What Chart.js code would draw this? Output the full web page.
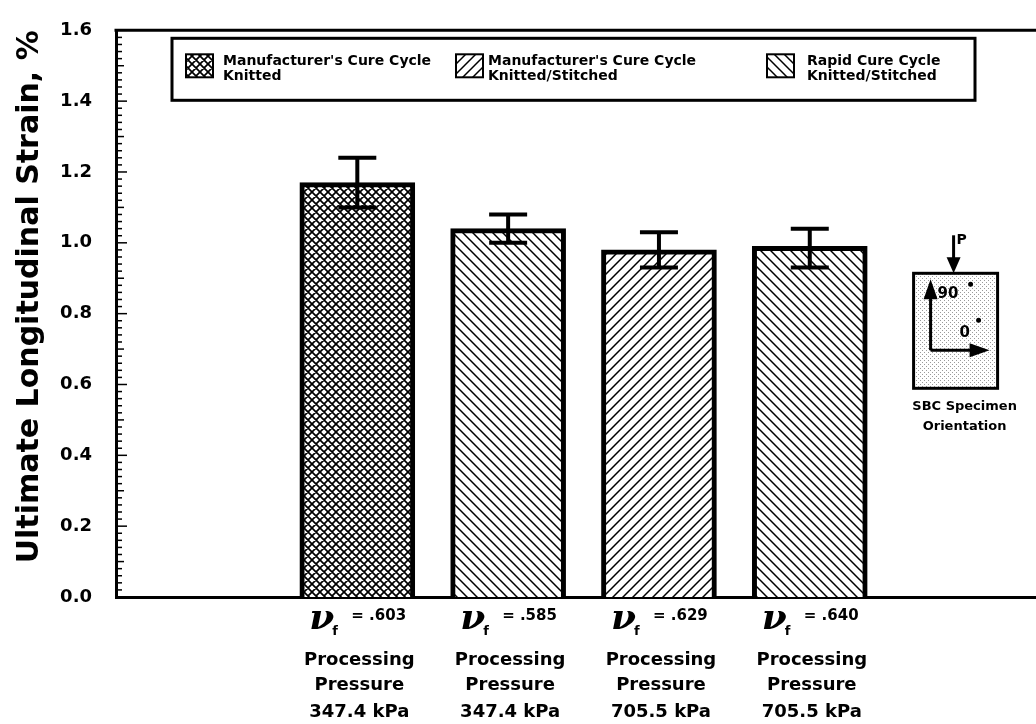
<!DOCTYPE html>
<html>
<head>
<meta charset="utf-8">
<script src="https://cdn.jsdelivr.net/npm/chart.js@4.4.0/dist/chart.umd.min.js"></script>
<style>
  html, body { margin: 0; padding: 0; background: #fff; }
  #wrap { width: 1036px; height: 724px; }
</style>
</head>
<body>
<div id="wrap"><canvas id="strainChart"></canvas></div>
<script>
// values (ultimate longitudinal strain, %)
const fiberFractions = [".603", ".585", ".629", ".640"];
const pressures = ["347.4 kPa", "347.4 kPa", "705.5 kPa", "705.5 kPa"];
const strainMean = [1.17, 1.04, 0.98, 0.99];
const strainHigh = [1.24, 1.08, 1.03, 1.04];
const strainLow = [1.10, 1.00, 0.93, 0.93];
const barHatch = ["cross", "back", "fwd", "back"];

const legendText = [
  ["Manufacturer's Cure Cycle", "Knitted"],
  ["Manufacturer's Cure Cycle", "Knitted/Stitched"],
  ["Rapid Cure Cycle", "Knitted/Stitched"]
];
const legendHatch = ["cross", "fwd", "back"];

const yMax = 1.6;
const yStep = 0.2;
const yMinorStep = 0.02;

const FONT = '"DejaVu Sans", sans-serif';
const canvas = document.getElementById("strainChart");
const mainCtx = canvas.getContext("2d");

function makeHatch(kind) {
  const s = kind === "cross" ? 8 : 10;
  const tile = document.createElement("canvas");
  tile.width = s; tile.height = s;
  const g = tile.getContext("2d");
  g.fillStyle = "#fff";
  g.fillRect(0, 0, s, s);
  g.strokeStyle = "#000";
  g.lineWidth = kind === "cross" ? 1.7 : 1.5;
  g.beginPath();
  if (kind === "back" || kind === "cross") {
    g.moveTo(-2, -2); g.lineTo(s + 2, s + 2);
    g.moveTo(-2, s - 2); g.lineTo(2, s + 2);
    g.moveTo(s - 2, -2); g.lineTo(s + 2, 2);
  }
  if (kind === "fwd" || kind === "cross") {
    g.moveTo(-2, s + 2); g.lineTo(s + 2, -2);
    g.moveTo(-2, 2); g.lineTo(2, -2);
    g.moveTo(s - 2, s + 2); g.lineTo(s + 2, s - 2);
  }
  g.stroke();
  return mainCtx.createPattern(tile, "repeat");
}

function makeDots() {
  const tile = document.createElement("canvas");
  tile.width = 4; tile.height = 4;
  const g = tile.getContext("2d");
  g.fillStyle = "#fff";
  g.fillRect(0, 0, 4, 4);
  g.fillStyle = "#9a9a9a";
  g.fillRect(0, 0, 1, 1);
  g.fillRect(2, 2, 1, 1);
  return mainCtx.createPattern(tile, "repeat");
}

const hatches = { cross: makeHatch("cross"), back: makeHatch("back"), fwd: makeHatch("fwd") };
const dotFill = makeDots();

function arrowHead(ctx, x1, y1, x2, y2, tipX, tipY) {
  ctx.beginPath();
  ctx.moveTo(x1, y1); ctx.lineTo(x2, y2); ctx.lineTo(tipX, tipY);
  ctx.closePath();
  ctx.fill();
}

const decorPlugin = {
  id: "decor",
  afterDatasetsDraw(chart) {
    const { ctx, chartArea: area } = chart;
    const xs = chart.scales.x, ys = chart.scales.y;
    ctx.save();
    ctx.strokeStyle = "#000";
    ctx.fillStyle = "#000";

    // top frame line
    ctx.lineWidth = 3;
    ctx.beginPath();
    ctx.moveTo(area.left - 1.5, area.top);
    ctx.lineTo(area.right, area.top);
    ctx.stroke();

    // inward ticks on the y axis
    ctx.lineWidth = 1.5;
    const nMinor = Math.round(yMax / yMinorStep);
    for (let k = 0; k <= nMinor; k++) {
      const y = ys.getPixelForValue(k * yMinorStep);
      const len = k % 10 === 0 ? 11 : (k % 5 === 0 ? 8 : 6);
      ctx.beginPath();
      ctx.moveTo(area.left, y);
      ctx.lineTo(area.left + len, y);
      ctx.stroke();
    }

    // error bars
    ctx.lineWidth = 4;
    strainMean.forEach((m, i) => {
      const x = xs.getPixelForValue(i + 1);
      const yh = ys.getPixelForValue(strainHigh[i]);
      const yl = ys.getPixelForValue(strainLow[i]);
      ctx.beginPath();
      ctx.moveTo(x, yh); ctx.lineTo(x, yl);
      ctx.moveTo(x - 19, yh); ctx.lineTo(x + 19, yh);
      ctx.moveTo(x - 19, yl); ctx.lineTo(x + 19, yl);
      ctx.stroke();
    });

    // legend box
    const lx = area.left + 56, ly = area.top + 8, lw = 803, lh = 62;
    ctx.lineWidth = 3;
    ctx.fillStyle = "#fff";
    ctx.fillRect(lx, ly, lw, lh);
    ctx.strokeRect(lx, ly, lw, lh);
    const swatchX = [14, 284, 595];
    const textX = [51, 316, 635];
    ctx.font = "bold 14px " + FONT;
    ctx.textBaseline = "middle";
    ctx.textAlign = "left";
    legendText.forEach((lines, i) => {
      ctx.fillStyle = hatches[legendHatch[i]];
      ctx.fillRect(lx + swatchX[i], ly + 16, 27, 23);
      ctx.lineWidth = 2;
      ctx.strokeRect(lx + swatchX[i], ly + 16, 27, 23);
      ctx.fillStyle = "#000";
      lines.forEach((t, j) => ctx.fillText(t, lx + textX[i], ly + 23 + j * 15));
    });

    // category labels under the bars
    const base = area.bottom;
    fiberFractions.forEach((f, i) => {
      const cx = xs.getPixelForValue(i + 1);
      ctx.fillStyle = "#000";
      ctx.textAlign = "left";
      ctx.textBaseline = "alphabetic";
      ctx.font = 'italic bold 36px "DejaVu Serif", serif';
      ctx.fillText("\u03BD", cx - 48, base + 32);
      ctx.font = "bold 13px " + FONT;
      ctx.fillText("f", cx - 25, base + 38);
      ctx.font = "bold 15px " + FONT;
      ctx.textBaseline = "middle";
      ctx.fillText("= " + f, cx - 6, base + 19);
      ctx.textAlign = "center";
      ctx.font = "bold 18px " + FONT;
      ctx.fillText("Processing", cx + 2, base + 63);
      ctx.fillText("Pressure", cx + 2, base + 88);
      ctx.fillText(pressures[i], cx + 2, base + 115);
    });

    // specimen orientation sketch in the last slot
    const sx = xs.getPixelForValue(5);
    const bx = sx - 47, by = area.top + 243, bw = 84, bh = 115;
    ctx.fillStyle = dotFill;
    ctx.fillRect(bx, by, bw, bh);
    ctx.lineWidth = 3;
    ctx.strokeRect(bx, by, bw, bh);
    ctx.fillStyle = "#000";
    // load arrow
    const ax = bx + 40;
    ctx.beginPath();
    ctx.moveTo(ax, by - 38); ctx.lineTo(ax, by - 12);
    ctx.stroke();
    arrowHead(ctx, ax - 7, by - 16, ax + 7, by - 16, ax, by);
    ctx.font = "bold 14px " + FONT;
    ctx.textAlign = "left";
    ctx.textBaseline = "middle";
    ctx.fillText("P", ax + 3, by - 33);
    // 90 / 0 direction arrows
    const ox = bx + 17, oy = by + 77;
    ctx.lineWidth = 3;
    ctx.beginPath();
    ctx.moveTo(ox, oy); ctx.lineTo(ox, by + 24);
    ctx.moveTo(ox, oy); ctx.lineTo(bx + 58, oy);
    ctx.stroke();
    arrowHead(ctx, ox - 7, by + 26, ox + 7, by + 26, ox, by + 6);
    arrowHead(ctx, bx + 56, oy - 7, bx + 56, oy + 7, bx + 76, oy);
    ctx.font = "bold 15px " + FONT;
    ctx.fillText("90", bx + 24, by + 21);
    ctx.fillText("0", bx + 46, by + 60);
    ctx.beginPath();
    ctx.arc(bx + 57, by + 11, 2.5, 0, Math.PI * 2);
    ctx.arc(bx + 65, by + 47, 2.5, 0, Math.PI * 2);
    ctx.fill();
    ctx.font = "bold 13px " + FONT;
    ctx.textAlign = "center";
    ctx.fillText("SBC Specimen", sx + 4, by + bh + 18);
    ctx.fillText("Orientation", sx + 4, by + bh + 38);

    ctx.restore();
  }
};

new Chart(canvas, {
  type: "bar",
  data: {
    datasets: [{
      label: "Ultimate longitudinal strain",
      data: strainMean.map((v, i) => ({ x: i + 1, y: v })),
      backgroundColor: barHatch.map(h => hatches[h]),
      borderColor: "#000",
      borderWidth: 5,
      borderSkipped: "bottom",
      barThickness: 115
    }]
  },
  options: {
    responsive: true,
    maintainAspectRatio: false,
    animation: false,
    layout: { padding: { top: 10, right: 0, left: 0, bottom: 0 } },
    plugins: {
      legend: { display: false },
      tooltip: { enabled: false }
    },
    scales: {
      x: {
        type: "linear",
        offset: false,
        min: -0.6,
        max: 5.5,
        grid: { display: false, drawTicks: false },
        ticks: { display: false },
        border: { display: true, color: "#000", width: 3 },
        afterFit: s => { s.height = 127; }
      },
      y: {
        min: 0,
        max: yMax,
        grid: { display: false, drawTicks: false },
        border: { display: true, color: "#000", width: 3 },
        ticks: {
          stepSize: yStep,
          padding: 24,
          color: "#000",
          font: { family: FONT, weight: "bold", size: 18, lineHeight: 0.7 },
          callback: v => v.toFixed(1)
        },
        title: {
          display: true,
          align: "end",
          text: "Ultimate Longitudinal Strain, %",
          color: "#000",
          font: { family: FONT, weight: "bold", size: 30 },
          padding: { top: 12, bottom: 0 }
        },
        afterFit: s => { s.width = 116; }
      }
    }
  },
  plugins: [decorPlugin]
});
</script>
</body>
</html>
